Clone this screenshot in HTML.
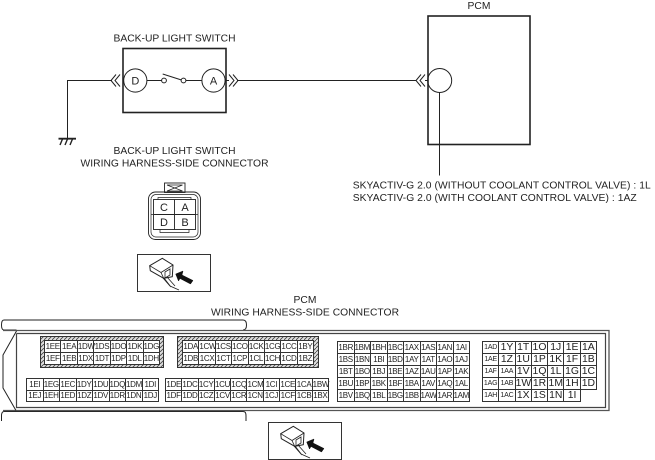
<!DOCTYPE html>
<html><head><meta charset="utf-8"><style>
html,body{margin:0;padding:0;background:#fff;width:655px;height:460px;overflow:hidden}
svg{position:absolute;left:0;top:0}
svg text{font-family:"Liberation Sans",sans-serif;font-size:10.3px;fill:#222}
svg text.b{font-size:11px}
table{position:absolute;border-collapse:collapse;table-layout:fixed;font-family:"Liberation Sans",sans-serif;font-size:8px;color:#222;letter-spacing:-.3px;background:#fff}
td{border:1px solid #333;padding:0;text-align:center;white-space:nowrap;line-height:10px;overflow:visible}
#t6 td{font-size:10.4px;letter-spacing:0}
#t6 td.s{font-size:7px;letter-spacing:-.2px}
#t6 td.n{border:none}
</style></head><body>
<svg width="655" height="460" viewBox="0 0 655 460" fill="none" stroke="#222">
<defs>
<pattern id="h" width="4" height="4" patternUnits="userSpaceOnUse"><rect width="4" height="4" fill="#ddd" stroke="none"/><path d="M0 4L4 0" stroke="#444" stroke-width=".8"/></pattern>
<g id="icon">
<rect x=".5" y=".5" width="73" height="37" fill="#fff" stroke="#333"/>
<path d="M12.7 11.7L25.3 4.3L36 11L35.3 22.7L26.7 24.3L13.3 16.7Z" fill="#fff" stroke="#222"/>
<path d="M12.7 11.7L24 18.5L36 11M24 18.5L26.7 24.3" stroke="#222" stroke-width=".8"/>
<path d="M28 18L33 15V21L28 24ZM27 24L34 33M30 23L38 32M26 24L33 32L42 36" stroke="#222" stroke-width=".8"/>
<path d="M38.7 20L46 17L45 21L56 26.5L53.5 30L43 24.5L41.5 27Z" fill="#111" stroke="#111" stroke-width=".5"/>
</g>
</defs>

<!-- top schematic -->
<text x="174.5" y="41.5" text-anchor="middle" stroke="none" textLength="122">BACK-UP LIGHT SWITCH</text>
<rect x="123" y="48.5" width="103" height="64" stroke-width="1.6"/>
<circle cx="135.3" cy="80.5" r="11.6"/>
<circle cx="213.5" cy="80.5" r="11.6"/>
<text class="b" x="135.3" y="84.500" text-anchor="middle" stroke="none">D</text>
<text class="b" x="213.5" y="84.500" text-anchor="middle" stroke="none">A</text>
<path d="M147 80.5H161.5M186 80.5H202"/>
<circle cx="164" cy="80.5" r="2.4"/><circle cx="183.5" cy="80.5" r="2.4"/>
<path d="M162.7 74L181.5 80"/>
<path d="M67.5 138V80.5H112"/>
<path d="M116 74.5L111 80.5L116 86.5M120 74.5L115 80.5L120 86.5"/>
<path d="M229 74.5L234 80.5L229 86.5M233 74.5L238 80.5L233 86.5"/>
<path d="M225 80.5H229M237 80.5H416"/>
<path d="M58.5 138.7H76" stroke-width="1.8"/>
<path d="M62.5 139L60 145M67.5 139L65 145M72.5 139L70 145" stroke-width="1.4"/>

<text x="479" y="9" text-anchor="middle" stroke="none">PCM</text>
<rect x="428" y="16" width="102" height="128.5" stroke-width="1.6"/>
<circle cx="439.7" cy="80.5" r="12"/>
<path d="M421 74.5L416 80.5L421 86.5M425 74.5L420 80.5L425 86.5"/>
<path d="M425 80.5H428"/>
<path d="M439.5 92.5V175.5"/>
<text x="352.7" y="188.7" stroke="none" textLength="298">SKYACTIV-G 2.0 (WITHOUT COOLANT CONTROL VALVE) : 1L</text>
<text x="352.7" y="201" stroke="none" textLength="284">SKYACTIV-G 2.0 (WITH COOLANT CONTROL VALVE) : 1AZ</text>

<!-- switch connector -->
<text x="174.5" y="154" text-anchor="middle" stroke="none" textLength="122">BACK-UP LIGHT SWITCH</text>
<text x="174.5" y="166.5" text-anchor="middle" stroke="none" textLength="188">WIRING HARNESS-SIDE CONNECTOR</text>
<rect x="164.5" y="183" width="20.5" height="9.5" stroke-width=".9"/>
<path d="M167 185L182.5 191M182.5 185L167 191M167 185H182.5M167 191H182.5" stroke-width=".7"/>
<rect x="148.5" y="192" width="52" height="47.5" rx="7" stroke-width=".9"/>
<rect x="151" y="194.5" width="47" height="42.5" rx="5" stroke-width=".7"/>
<path d="M158 199.500V197.500H191V199.500M160 229.500V232.500H189V229.500" stroke-width=".7"/>
<path d="M151 214.500H153.500M195.500 214.500H198" stroke-width=".7"/>
<rect x="153.500" y="199.500" width="42" height="30" fill="#fff" stroke-width=".9"/>
<path d="M174.500 199.500V229.500M153.500 214.500H195.500" stroke-width=".9"/>
<text class="b" x="164" y="211" text-anchor="middle" stroke="none">C</text>
<text class="b" x="185" y="211" text-anchor="middle" stroke="none">A</text>
<text class="b" x="164" y="226" text-anchor="middle" stroke="none">D</text>
<text class="b" x="185" y="226" text-anchor="middle" stroke="none">B</text>
<use href="#icon" x="137" y="254"/>
<use href="#icon" x="268" y="422"/>

<!-- PCM connector -->
<text x="305" y="303" text-anchor="middle" stroke="none">PCM</text>
<text x="305" y="315.500" text-anchor="middle" stroke="none" textLength="188">WIRING HARNESS-SIDE CONNECTOR</text>
<path d="M16.500 330H4C2 330 1.500 328 1.500 325C1.500 322 2 320 4 320H243C245.500 320 246.500 322 246.500 325C246.500 328 245.500 330 243 330"/>
<path d="M1.500 421V416C1.500 413 2 411.500 4 411.500H243C245.500 411.500 246 413 246 416V421"/>
<path d="M3 330.500H609V410.500H3" stroke="#555" stroke-width="1.3"/>
<path d="M16.500 333.500H605.500V407.500H16.500V333.500" stroke="#444" stroke-width="1.2"/>
<path d="M16.500 331L3 355V388L16 410.500"/>
<rect x="40.500" y="336.500" width="123" height="31" fill="url(#h)" stroke="#333"/>
<rect x="177.500" y="336.500" width="141" height="31" fill="url(#h)" stroke="#333"/>
</svg>

<table style="left:44px;top:340px;width:116px"><tr style="height:12px"><td>1EE</td><td>1EA</td><td>1DW</td><td>1DS</td><td>1DO</td><td>1DK</td><td>1DG</td></tr><tr style="height:12px"><td>1EF</td><td>1EB</td><td>1DX</td><td>1DT</td><td>1DP</td><td>1DL</td><td>1DH</td></tr></table>

<table style="left:182px;top:340px;width:132px"><tr style="height:12px"><td>1DA</td><td>1CW</td><td>1CS</td><td>1CO</td><td>1CK</td><td>1CG</td><td>1CC</td><td>1BY</td></tr><tr style="height:12px"><td>1DB</td><td>1CX</td><td>1CT</td><td>1CP</td><td>1CL</td><td>1CH</td><td>1CD</td><td>1BZ</td></tr></table>

<table style="left:26px;top:378px;width:133px"><tr style="height:12px"><td>1EI</td><td>1EG</td><td>1EC</td><td>1DY</td><td>1DU</td><td>1DQ</td><td>1DM</td><td>1DI</td></tr><tr style="height:11px"><td>1EJ</td><td>1EH</td><td>1ED</td><td>1DZ</td><td>1DV</td><td>1DR</td><td>1DN</td><td>1DJ</td></tr></table>

<table style="left:165px;top:378px;width:164px"><tr style="height:12px"><td>1DE</td><td>1DC</td><td>1CY</td><td>1CU</td><td>1CQ</td><td>1CM</td><td>1CI</td><td>1CE</td><td>1CA</td><td>1BW</td></tr><tr style="height:11px"><td>1DF</td><td>1DD</td><td>1CZ</td><td>1CV</td><td>1CR</td><td>1CN</td><td>1CJ</td><td>1CF</td><td>1CB</td><td>1BX</td></tr></table>

<table style="left:337px;top:341px;width:133px">
<tr style="height:12px"><td>1BR</td><td>1BM</td><td>1BH</td><td>1BC</td><td>1AX</td><td>1AS</td><td>1AN</td><td>1AI</td></tr>
<tr style="height:12px"><td>1BS</td><td>1BN</td><td>1BI</td><td>1BD</td><td>1AY</td><td>1AT</td><td>1AO</td><td>1AJ</td></tr>
<tr style="height:12px"><td>1BT</td><td>1BO</td><td>1BJ</td><td>1BE</td><td>1AZ</td><td>1AU</td><td>1AP</td><td>1AK</td></tr>
<tr style="height:12px"><td>1BU</td><td>1BP</td><td>1BK</td><td>1BF</td><td>1BA</td><td>1AV</td><td>1AQ</td><td>1AL</td></tr>
<tr style="height:12px"><td>1BV</td><td>1BQ</td><td>1BL</td><td>1BG</td><td>1BB</td><td>1AW</td><td>1AR</td><td>1AM</td></tr>
</table>

<table id="t6" style="left:482px;top:341px;width:115px">
<tr style="height:12px"><td class="s">1AD</td><td>1Y</td><td>1T</td><td>1O</td><td>1J</td><td>1E</td><td>1A</td></tr>
<tr style="height:12px"><td class="s">1AE</td><td>1Z</td><td>1U</td><td>1P</td><td>1K</td><td>1F</td><td>1B</td></tr>
<tr style="height:12px"><td class="s">1AF</td><td class="s">1AA</td><td>1V</td><td>1Q</td><td>1L</td><td>1G</td><td>1C</td></tr>
<tr style="height:12px"><td class="s">1AG</td><td class="s">1AB</td><td>1W</td><td>1R</td><td>1M</td><td>1H</td><td>1D</td></tr>
<tr style="height:12px"><td class="s">1AH</td><td class="s">1AC</td><td>1X</td><td>1S</td><td>1N</td><td>1I</td><td class="n"></td></tr>
</table>
</body></html>
